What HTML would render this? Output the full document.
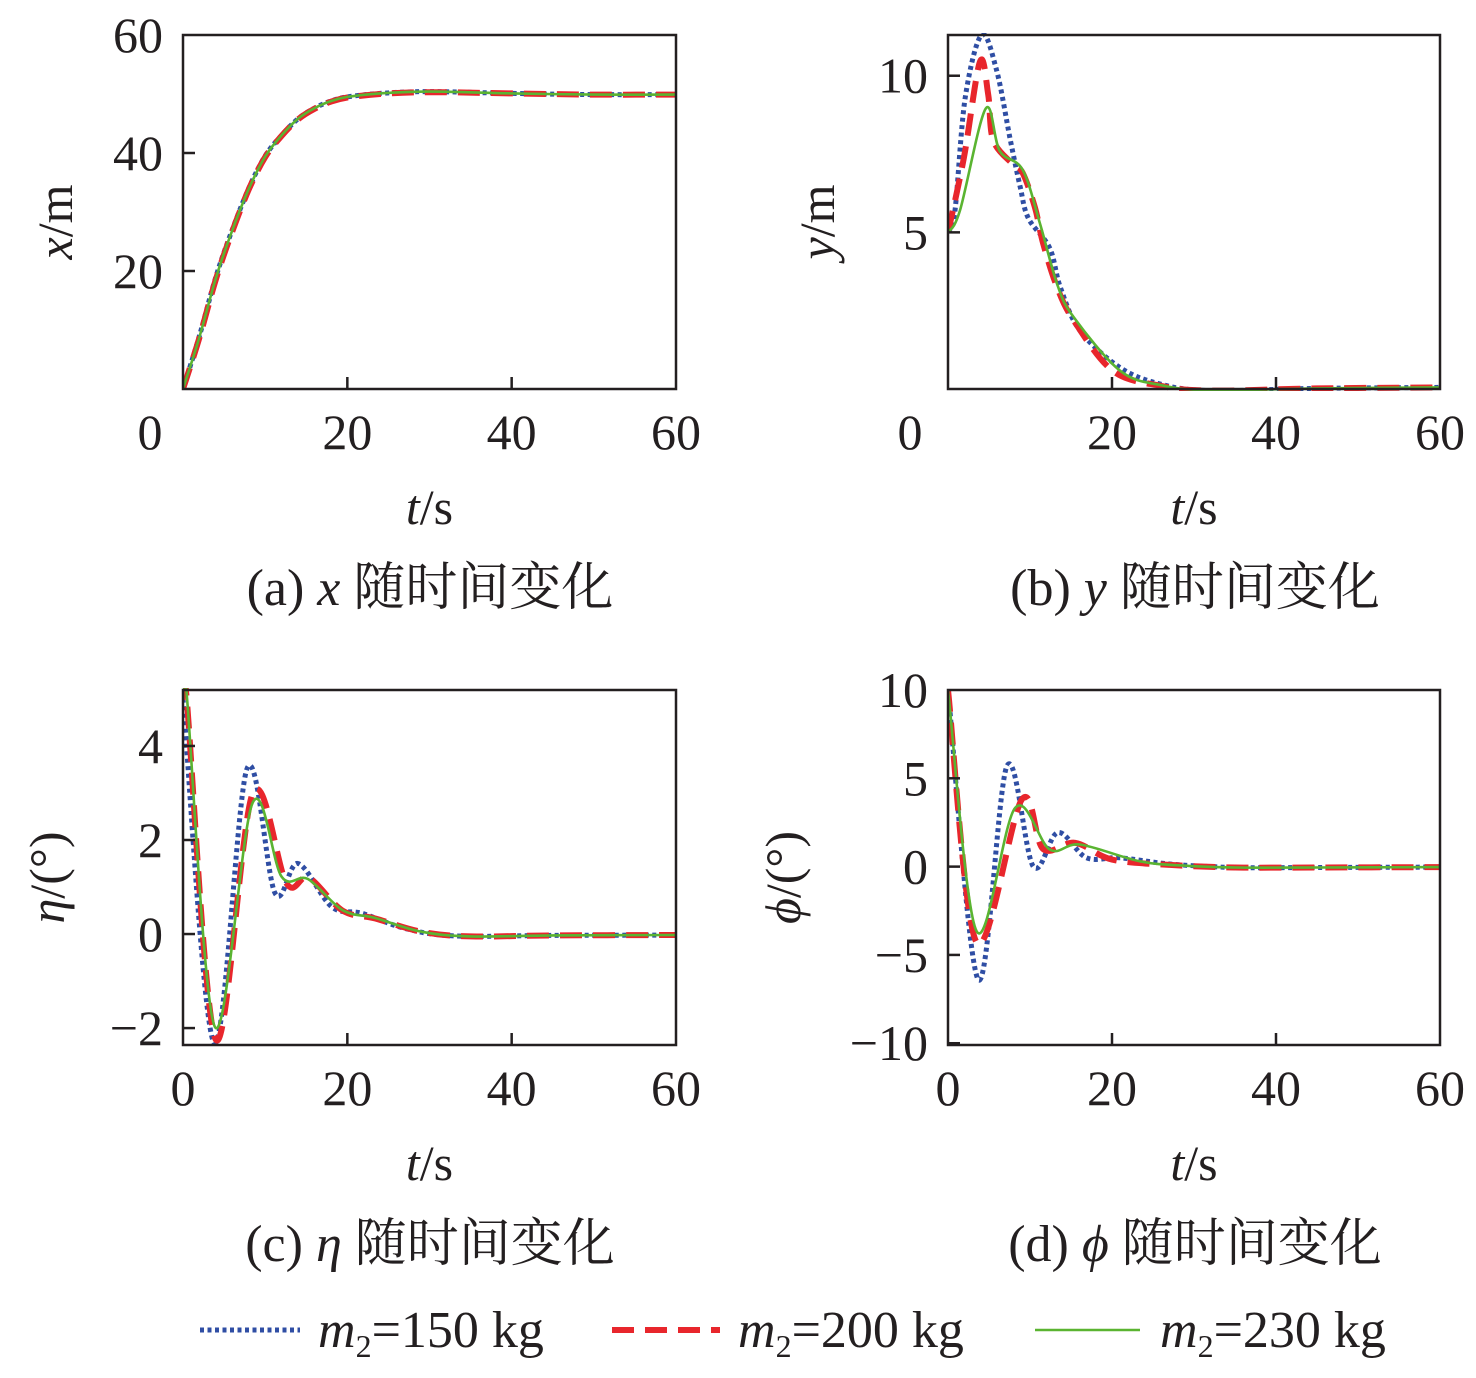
<!DOCTYPE html>
<html><head><meta charset="utf-8">
<style>
html,body{margin:0;padding:0;background:#fff;}
svg{display:block;font-family:"Liberation Serif","Noto Serif CJK SC",serif;}
</style></head>
<body>
<svg id="fig" width="1476" height="1378" viewBox="0 0 1476 1378" xmlns="http://www.w3.org/2000/svg">
<g id="g-a"></g>
<g id="g-b"></g>
<g id="g-c"></g>
<g id="g-d"></g>
<g id="legend"></g>
</svg>
<script>
// ---- data ----
const xTicks = [0, 20, 40, 60];
const aYTicks = [20, 40, 60];
const bYTicks = [5, 10];
const cYTicks = [-2, 0, 2, 4];
const dYTicks = [-10, -5, 0, 5, 10];

const aT = [0, 2, 4, 6, 8, 10, 12, 14, 16, 18, 20, 24, 30, 40, 50, 60];
const aBlue = [0, 9, 19, 27, 34, 39.5, 43, 45.8, 47.6, 48.8, 49.5, 50.1, 50.4, 50.1, 49.9, 49.9];
const aRed = [0, 8.7, 18.6, 26.7, 33.8, 39.3, 42.9, 45.7, 47.5, 48.7, 49.4, 50.0, 50.3, 50.1, 49.9, 49.9];
const aGreen = [0, 8.8, 18.8, 26.9, 33.9, 39.4, 43, 45.8, 47.6, 48.8, 49.5, 50.1, 50.4, 50.1, 49.9, 49.9];

const bBlueT = [0, 0.85, 2.1, 4.1, 5.9, 7.6, 8.8, 9.8, 12.4, 13.7, 16.1, 21, 26, 32, 45, 60];
const bBlue = [5, 5.7, 9.3, 11.3, 10.2, 7.95, 6.45, 5.45, 4.5, 3.25, 1.86, 0.68, 0.15, -0.05, 0.02, 0.05];
const bRedT = [0, 1.95, 3.9, 4.9, 5.5, 7.8, 9.1, 10.6, 11.6, 13.3, 15.3, 20.1, 26, 32, 45, 60];
const bRed = [5, 7.4, 10.45, 9.4, 7.95, 7.2, 6.9, 5.8, 4.65, 3.25, 2.2, 0.58, 0.1, -0.05, 0.02, 0.05];
const bGreenT = [0, 1.46, 4.6, 6.3, 9.1, 11.2, 13.3, 15.3, 21, 26, 32, 45, 60];
const bGreen = [5, 5.7, 8.95, 7.6, 7.0, 5.3, 3.35, 2.3, 0.58, 0.12, -0.04, 0.02, 0.05];

const cBlueT = [0, 3.8, 7.8, 11.2, 14.0, 18.1, 21.8, 27, 33, 45, 60];
const cBlue = [5.0, -2.32, 3.52, 0.87, 1.5, 0.58, 0.44, 0.12, -0.04, -0.03, -0.02];
const cRedT = [0, 0.4, 4.0, 8.5, 12.6, 15.3, 19.4, 23.4, 29, 35, 45, 60];
const cRed = [5.0, 5.1, -2.25, 3.0, 1.08, 1.2, 0.5, 0.33, 0.05, -0.05, -0.03, -0.02];
const cGreenT = [0, 0.4, 3.9, 8.45, 12.0, 15.2, 19.4, 23.4, 29, 35, 45, 60];
const cGreen = [5.0, 5.2, -1.98, 2.78, 1.22, 1.17, 0.51, 0.34, 0.05, -0.05, -0.03, -0.02];

const dBlueT = [0, 3.7, 7.2, 10.4, 13.4, 16.9, 21, 27, 35, 45, 60];
const dBlue = [10, -6.4, 5.7, 0.0, 1.93, 0.5, 0.5, 0.15, -0.05, -0.05, -0.03];
const dRedT = [0, 3.5, 9.0, 11.6, 15.5, 20, 27, 35, 45, 60];
const dRed = [10, -4.3, 3.8, 1.0, 1.35, 0.4, 0.1, -0.05, -0.05, -0.03];
const dGreenT = [0, 3.5, 8.2, 12.4, 16.1, 23.4, 29, 35, 45, 60];
const dGreen = [10, -3.67, 3.33, 0.97, 1.25, 0.3, 0.05, -0.05, -0.05, -0.03];

const seriesNames = ["150", "200", "230"];

// ---- helpers ----
const NS = "http://www.w3.org/2000/svg";
function mk(tag, attrs, parent) {
  const e = document.createElementNS(NS, tag);
  for (const k in attrs) e.setAttribute(k, attrs[k]);
  parent.appendChild(e);
  return e;
}
const STY = [
  {stroke:"#2f4ea4", w:5, dash:"4 3.5"},
  {stroke:"#e8262c", w:6, dash:"22 11"},
  {stroke:"#5ab431", w:2.6, dash:""}
];
const TF = 50;
function pathFrom(ts, vs, sx, sy) {
  const p = ts.map((t,i)=>[sx(t), sy(vs[i])]);
  let d = "M" + p[0][0].toFixed(1) + "," + p[0][1].toFixed(1);
  for (let i=0;i<p.length-1;i++){
    const p0 = p[Math.max(0,i-1)], p1=p[i], p2=p[i+1], p3=p[Math.min(p.length-1,i+2)];
    const c1x = p1[0]+(p2[0]-p0[0])/6, c1y = p1[1]+(p2[1]-p0[1])/6;
    const c2x = p2[0]-(p3[0]-p1[0])/6, c2y = p2[1]-(p3[1]-p1[1])/6;
    d += " C"+c1x.toFixed(1)+","+c1y.toFixed(1)+" "+c2x.toFixed(1)+","+c2y.toFixed(1)+" "+p2[0].toFixed(1)+","+p2[1].toFixed(1);
  }
  return d;
}
function panel(cfg) {
  const g = document.getElementById(cfg.id);
  const {x0,x1,y0,y1,ymin,ymax} = cfg;
  const sx = t => x0 + (t/60)*(x1-x0);
  const sy = v => y1 - (v-ymin)/(ymax-ymin)*(y1-y0);
  const clip = mk("clipPath",{id:cfg.id+"-clip"},g);
  mk("rect",{x:x0,y:y0-2,width:x1-x0,height:y1-y0+4},clip);
  const lines = mk("g",{"clip-path":"url(#"+cfg.id+"-clip)"},g);
  
  
  cfg.series.forEach((s,i)=>{
    const st = STY[i];
    const el = mk("path",{d:pathFrom(s[0],s[1],sx,sy),fill:"none",stroke:st.stroke,"stroke-width":st.w,"stroke-dasharray":st.dash,"stroke-linejoin":"round"},lines);
    
    
  });
  const fr = mk("rect",{x:x0,y:y0,width:x1-x0,height:y1-y0,fill:"none",stroke:"#231f20","stroke-width":2.5},g);
  
  
  xTicks.forEach(t=>{
    if (t>0 && t<60) {
      const tk = mk("line",{x1:sx(t),x2:sx(t),y1:y1,y2:y1-12,stroke:"#231f20","stroke-width":2.5},g);
      
      
    }
    if (t===0 && cfg.zeroX) return;
    const lb = mk("text",{x:sx(t),y:y1+60,"font-size":TF,"text-anchor":"middle",fill:"#231f20"},g);
    lb.textContent = t;
    
    
  });
  if (cfg.zeroX) {
    const lb = mk("text",{x:cfg.zeroX,y:y1+60,"font-size":TF,"text-anchor":"middle",fill:"#231f20"},g);
    lb.textContent = "0";
    
    
  }
  cfg.yTicks.forEach(v=>{
    if (v>ymin && v<ymax) {
      const tk = mk("line",{x1:x0,x2:x0+12,y1:sy(v),y2:sy(v),stroke:"#231f20","stroke-width":2.5},g);
      
      
    }
    const lb = mk("text",{x:x0-20,y:sy(v)+17,"font-size":TF,"text-anchor":"end",fill:"#231f20"},g);
    lb.textContent = v<0 ? "\u2212"+(-v) : v;
    
    
  });
  const xt = mk("text",{x:(x0+x1)/2,y:y1+135,"font-size":TF,"text-anchor":"middle",fill:"#231f20"},g);
  xt.innerHTML = '<tspan font-style="italic">t</tspan>/s';
  
  
  const yt = mk("text",{x:0,y:0,"font-size":TF,"text-anchor":"middle",fill:"#231f20",transform:"translate("+cfg.ytx+","+((y0+y1)/2+10)+") rotate(-90)"},g);
  yt.innerHTML = cfg.ytitle;
  
  
  const cap = mk("text",{x:cfg.capx,y:y1+216,"font-size":52,"text-anchor":"middle",fill:"#231f20"},g);
  cap.innerHTML = cfg.caption;
  
  
}
panel({id:"g-a",x0:183,x1:676,y0:35,y1:389,ymin:0,ymax:60,yTicks:aYTicks,zeroX:150,
  series:[[aT,aBlue],[aT,aRed],[aT,aGreen]],ytx:72,ytitle:'<tspan font-style="italic">x</tspan>/m',
  capx:430,caption:'(a) <tspan font-style="italic">x</tspan> 随时间变化'});
panel({id:"g-b",x0:948,x1:1440,y0:35,y1:389,ymin:0,ymax:11.3,yTicks:bYTicks,zeroX:910,
  series:[[bBlueT,bBlue],[bRedT,bRed],[bGreenT,bGreen]],ytx:834,ytitle:'<tspan font-style="italic">y</tspan>/m',
  capx:1195,caption:'(b) <tspan font-style="italic">y</tspan> 随时间变化'});
panel({id:"g-c",x0:183,x1:676,y0:690,y1:1045,ymin:-2.36,ymax:5.19,yTicks:cYTicks,
  series:[[cBlueT,cBlue],[cRedT,cRed],[cGreenT,cGreen]],ytx:64,ytitle:'<tspan font-style="italic">η</tspan>/(°)',
  capx:430,caption:'(c) <tspan font-style="italic">η</tspan> 随时间变化'});
panel({id:"g-d",x0:948,x1:1440,y0:690,y1:1045,ymin:-10.1,ymax:10,yTicks:dYTicks,
  series:[[dBlueT,dBlue],[dRedT,dRed],[dGreenT,dGreen]],ytx:800,ytitle:'<tspan font-style="italic">ϕ</tspan>/(°)',
  capx:1195,caption:'(d) <tspan font-style="italic">ϕ</tspan> 随时间变化'});

// legend
const lg = document.getElementById("legend");
const lx = [[200,300,318],[612,720,738],[1035,1140,1160]];
seriesNames.forEach((n,i)=>{
  const st = STY[i];
  const ln = mk("line",{x1:lx[i][0],x2:lx[i][1],y1:1330,y2:1330,stroke:st.stroke,"stroke-width":st.w,"stroke-dasharray":st.dash},lg);
  
  
  const tx = mk("text",{x:lx[i][2],y:1347,"font-size":52,fill:"#231f20"},lg);
  tx.innerHTML = '<tspan font-style="italic">m</tspan><tspan font-size="32" dy="10">2</tspan><tspan dy="-10">=' + n + ' kg</tspan>';
  
  
});
</script>
</body></html>
